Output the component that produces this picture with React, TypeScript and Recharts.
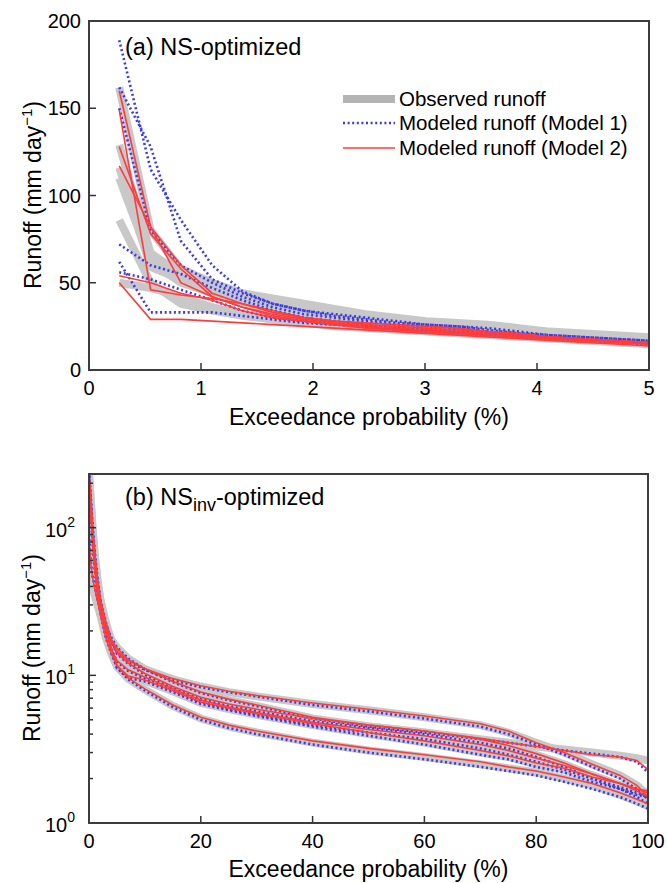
import React from "react";
import { LineChart, Line, XAxis, YAxis } from "recharts";

const FONT = '"Liberation Sans", Arial, Helvetica, sans-serif';
const AXIS = "#333333";
const OBS = "#c8c8c8";
const OBS_KEY = "#b4b4b4";
const M1 = "#3a3ae8";
const M2 = "#ff3c3c";

// ---- panel (a): NS-optimized, first 5 % of the duration curve ----
const probA = [0.27, 0.55, 0.82, 1.1, 1.37, 1.64, 1.92, 2.19, 2.47, 2.74, 3.01, 3.29, 3.56, 3.84, 4.11, 4.38, 4.66, 4.93, 5.21];

const obsA = [
  [162, 80, 58, 50, 44, 41, 38, 35, 32, 30, 28, 27, 26, 24, 22, 21, 20, 19, 18],
  [129, 67, 55, 49, 42, 38, 34, 31, 28, 26, 25, 24, 23, 22, 21, 20, 19, 18, 17],
  [116, 59, 52, 45, 40, 36, 33, 30, 28, 26, 24, 23, 22, 21, 20, 19, 18, 17, 16],
  [110, 62, 50, 44, 38, 34, 31, 28, 26, 24, 23, 22, 21, 20, 19, 18, 17, 16, 15],
  [86, 50, 38, 34, 31, 29, 27, 26, 25, 24, 23, 22, 21, 20, 19, 18, 17, 16, 15],
  [50, 47, 42, 36, 32, 29, 27, 25, 24, 23, 22, 21, 20, 19, 18, 17, 16, 15, 14],
];
const model1A = [
  [189, 115, 86, 60, 45, 38, 34, 31, 29, 27, 26, 25, 24, 22, 20, 19, 18, 17, 16],
  [162, 128, 74, 52, 44, 38, 34, 32, 30, 28, 26, 25, 23, 21, 20, 19, 18, 17, 16],
  [150, 80, 60, 50, 42, 36, 32, 30, 28, 26, 25, 24, 22, 21, 19, 18, 17, 16, 15],
  [72, 60, 55, 47, 40, 34, 30, 28, 26, 24, 23, 22, 21, 20, 19, 18, 17, 16, 15],
  [62, 33, 33, 33, 31, 29, 27, 26, 25, 24, 23, 22, 21, 20, 19, 18, 17, 16, 15],
  [56, 52, 46, 40, 34, 30, 28, 26, 25, 23, 22, 21, 20, 19, 18, 17, 16, 15, 14],
];
const model2A = [
  [160, 82, 60, 44, 38, 34, 30, 28, 27, 26, 25, 24, 22, 21, 19, 18, 17, 16, 15],
  [149, 46, 43, 41, 38, 33, 30, 28, 26, 25, 24, 23, 22, 20, 19, 18, 17, 16, 15],
  [128, 78, 58, 42, 36, 32, 29, 27, 25, 24, 23, 22, 21, 20, 19, 18, 17, 16, 15],
  [117, 82, 50, 42, 36, 31, 28, 26, 25, 23, 22, 21, 20, 19, 18, 17, 16, 15, 14],
  [54, 50, 44, 40, 34, 30, 28, 26, 24, 23, 22, 21, 20, 19, 18, 17, 16, 15, 14],
  [50, 29, 29, 28, 27, 26, 25, 24, 23, 22, 21, 20, 19, 18, 17, 16, 15, 14, 13],
];
const ticksAX = [0, 1, 2, 3, 4, 5];
const ticksAY = [0, 50, 100, 150, 200];

// ---- panel (b): NSinv-optimized, full duration curve (log axis) ----
const probB = [0, 0.3, 0.6, 1, 1.5, 2, 3, 4, 5, 7, 10, 15, 20, 25, 30, 40, 50, 60, 70, 75, 80, 85, 90, 95, 98, 100];

const obsB = [
  [200, 140, 95, 62, 42, 32, 22, 17, 14.5, 12.5, 11, 9.4, 8.4, 7.7, 7.2, 6.4, 5.8, 5.2, 4.6, 4.1, 3.5, 3.0, 2.5, 2.1, 1.8, 1.55],
  [55, 46, 40, 35, 30, 26, 21, 17.5, 15.5, 13, 11, 9, 7.6, 6.8, 6.2, 5.1, 4.5, 4.1, 3.7, 3.5, 3.3, 3.15, 3.0, 2.85, 2.75, 2.65],
  [230, 150, 100, 65, 44, 33, 23, 17, 14, 12, 10.2, 8.3, 7.0, 6.3, 5.8, 5.0, 4.5, 4.1, 3.6, 3.3, 2.9, 2.5, 2.1, 1.8, 1.65, 1.55],
  [210, 130, 85, 55, 38, 29, 20, 15, 12.5, 10.8, 9.6, 8.0, 6.7, 6.0, 5.5, 4.7, 4.2, 3.8, 3.3, 3.0, 2.7, 2.4, 2.1, 1.8, 1.6, 1.45],
  [190, 120, 80, 52, 35, 26, 18, 14, 11.5, 9.5, 8.0, 6.2, 5.1, 4.5, 4.1, 3.5, 3.1, 2.8, 2.5, 2.35, 2.2, 2.0, 1.8, 1.55, 1.4, 1.3],
  [230, 160, 105, 68, 45, 33, 21, 15, 11.5, 9.8, 9.2, 7.8, 6.5, 5.9, 5.4, 4.6, 4.0, 3.5, 3.0, 2.8, 2.5, 2.3, 2.0, 1.8, 1.65, 1.6],
];
const model1B = [
  [230, 150, 100, 64, 43, 32, 22, 17, 14.3, 12.4, 10.9, 9.3, 8.3, 7.7, 7.2, 6.3, 5.7, 5.1, 4.5, 4.0, 3.4, 2.9, 2.4, 2.0, 1.7, 1.45],
  [90, 60, 48, 40, 33, 28, 22, 18, 15.5, 13, 11, 9, 7.6, 6.8, 6.2, 5.1, 4.5, 4.1, 3.7, 3.5, 3.3, 3.1, 2.95, 2.8, 2.6, 2.2],
  [240, 155, 102, 66, 45, 33, 23, 17, 14, 12, 10.1, 8.2, 6.9, 6.2, 5.7, 4.9, 4.4, 4.0, 3.5, 3.2, 2.8, 2.4, 2.0, 1.75, 1.6, 1.5],
  [225, 140, 90, 57, 39, 29, 20, 15, 12.4, 10.7, 9.5, 7.9, 6.6, 5.9, 5.4, 4.6, 4.1, 3.7, 3.2, 2.9, 2.6, 2.3, 2.0, 1.7, 1.5, 1.35],
  [210, 130, 84, 54, 36, 27, 18, 14, 11.4, 9.4, 7.9, 6.1, 5.0, 4.4, 4.0, 3.4, 3.0, 2.7, 2.4, 2.25, 2.1, 1.9, 1.7, 1.5, 1.35, 1.25],
  [240, 165, 108, 70, 46, 33, 20, 14.5, 11.2, 9.6, 9.1, 7.7, 6.4, 5.8, 5.3, 4.5, 3.9, 3.4, 2.9, 2.7, 2.4, 2.2, 1.9, 1.7, 1.55, 1.5],
];
const model2B = [
  [220, 145, 97, 63, 43, 32, 22, 17, 14.6, 12.6, 11.1, 9.5, 8.5, 7.8, 7.3, 6.5, 5.9, 5.3, 4.7, 4.2, 3.5, 3.0, 2.5, 2.1, 1.8, 1.5],
  [80, 58, 47, 39, 32, 27, 21, 17.5, 15.3, 12.8, 11.1, 9.1, 7.7, 6.9, 6.3, 5.2, 4.6, 4.2, 3.75, 3.5, 3.3, 3.1, 2.9, 2.8, 2.65, 2.3],
  [235, 152, 101, 65, 44, 33, 23, 17, 14.2, 12.1, 10.3, 8.4, 7.1, 6.4, 5.9, 5.1, 4.6, 4.2, 3.7, 3.35, 2.95, 2.55, 2.15, 1.85, 1.7, 1.6],
  [220, 135, 88, 56, 38, 29, 20, 15, 12.6, 10.9, 9.7, 8.1, 6.8, 6.1, 5.6, 4.8, 4.3, 3.9, 3.4, 3.1, 2.75, 2.45, 2.15, 1.85, 1.65, 1.5],
  [200, 125, 82, 53, 36, 26, 18, 14, 11.6, 9.6, 8.1, 6.3, 5.2, 4.6, 4.2, 3.6, 3.2, 2.9, 2.6, 2.4, 2.25, 2.05, 1.85, 1.6, 1.45, 1.35],
  [235, 162, 106, 69, 45, 33, 21, 15.2, 11.7, 9.9, 9.3, 7.9, 6.6, 6.0, 5.5, 4.7, 4.1, 3.6, 3.1, 2.85, 2.55, 2.35, 2.05, 1.85, 1.7, 1.65],
];
const ticksBX = [0, 20, 40, 60, 80, 100];
const majorBY = [1, 10, 100];
const minorBY = [2, 3, 4, 5, 6, 7, 8, 9, 20, 30, 40, 50, 60, 70, 80, 90, 200];
const ticksBY = [...majorBY, ...minorBY].sort((p, q) => p - q);

function buildRows(prob: number[], obs: number[][], m1: number[][], m2: number[][]) {
  return prob.map((x, i) => {
    const row: Record<string, number> = { x };
    obs.forEach((s, k) => (row[`o${k}`] = s[i]));
    m1.forEach((s, k) => (row[`a${k}`] = s[i]));
    m2.forEach((s, k) => (row[`b${k}`] = s[i]));
    return row;
  });
}

const rowsA = buildRows(probA, obsA, model1A, model2A);
const rowsB = buildRows(probB, obsB, model1B, model2B);

// inward MATLAB-style ticks; tickSize/tickMargin are 0 so x/y sit on the axis line
const makeTick =
  (side: "bottom" | "left" | "top" | "right", withLabel: boolean, log = false) =>
  (props: any) => {
    const { x, y, payload } = props;
    const v = payload.value as number;
    const major = !log || majorBY.includes(v);
    const len = major ? 7 : 4;
    let line;
    if (side === "bottom") line = <line x1={x} x2={x} y1={y} y2={y - len} stroke={AXIS} strokeWidth={1.5} />;
    else if (side === "top") line = <line x1={x} x2={x} y1={y} y2={y + len} stroke={AXIS} strokeWidth={1.5} />;
    else if (side === "left") line = <line x1={x} x2={x + len} y1={y} y2={y} stroke={AXIS} strokeWidth={1.5} />;
    else line = <line x1={x} x2={x - len} y1={y} y2={y} stroke={AXIS} strokeWidth={1.5} />;
    let label = null;
    if (withLabel && side === "bottom") {
      label = (
        <text x={x} y={y + 25} textAnchor="middle" fontSize={20} fontFamily={FONT} fill="#000">
          {v}
        </text>
      );
    } else if (withLabel && side === "left" && !log) {
      label = (
        <text x={x - 8} y={y + 7} textAnchor="end" fontSize={20} fontFamily={FONT} fill="#000">
          {v}
        </text>
      );
    } else if (withLabel && side === "left" && major) {
      const e = Math.round(Math.log10(v));
      label = (
        <text x={x - 14} y={y + 9} textAnchor="end" fontSize={20} fontFamily={FONT} fill="#000">
          10
          <tspan dy={-10} fontSize={14}>
            {e}
          </tspan>
        </text>
      );
    }
    return (
      <g>
        {line}
        {label}
      </g>
    );
  };

function lines(n: number) {
  const out: React.ReactNode[] = [];
  for (let k = 0; k < n; k++)
    out.push(
      <Line key={`o${k}`} dataKey={`o${k}`} type="linear" stroke={OBS} strokeWidth={8} dot={false} activeDot={false} isAnimationActive={false} />
    );
  for (let k = 0; k < n; k++)
    out.push(
      <Line key={`a${k}`} dataKey={`a${k}`} type="linear" stroke={M1} strokeWidth={2.6} strokeDasharray="2 2.6" dot={false} activeDot={false} isAnimationActive={false} />
    );
  for (let k = 0; k < n; k++)
    out.push(
      <Line key={`b${k}`} dataKey={`b${k}`} type="linear" stroke={M2} strokeWidth={1.6} dot={false} activeDot={false} isAnimationActive={false} />
    );
  return out;
}

const labelStyle: React.CSSProperties = { fontFamily: FONT, fontSize: 23, color: "#000", position: "absolute", whiteSpace: "nowrap" };
const axisLine = { stroke: AXIS, strokeWidth: 2 };

function YLabel({ cx, cy }: { cx: number; cy: number }) {
  return (
    <div style={{ ...labelStyle, left: cx, top: cy, lineHeight: "26px", transform: "translate(-50%, -50%) rotate(-90deg)" }}>
      Runoff (mm day<sup style={{ fontSize: 15, lineHeight: 0 }}>−1</sup>)
    </div>
  );
}

// box around a plot area: four filled strips laid over the chart
function Frame({ left, top, width, height }: { left: number; top: number; width: number; height: number }) {
  const c = "#3c3c3c";
  const t = 2;
  const s = (l: number, tp: number, w: number, h: number): React.CSSProperties => ({ position: "absolute", left: l, top: tp, width: w, height: h, backgroundColor: c, zIndex: 5 });
  return (
    <>
      <div style={s(left - 1, top - 1, width + t, t)} />
      <div style={s(left - 1, top + height - 1, width + t, t)} />
      <div style={s(left - 1, top - 1, t, height + t)} />
      <div style={s(left + width - 1, top - 1, t, height + t)} />
    </>
  );
}

function LegendRow({ top, kind, text }: { top: number; kind: "o" | "a" | "b"; text: string }) {
  const stroke = kind === "o" ? OBS_KEY : kind === "a" ? M1 : M2;
  const w = kind === "o" ? 8 : kind === "a" ? 2.6 : 1.6;
  return (
    <div style={{ position: "absolute", left: 343, top: top - 12, height: 24, display: "flex", alignItems: "center" }}>
      <svg width={52} height={24}>
        <line x1={0} x2={52} y1={12} y2={12} stroke={stroke} strokeWidth={w} strokeDasharray={kind === "a" ? "2 2.6" : undefined} />
      </svg>
      <span style={{ fontFamily: FONT, fontSize: 20.5, marginLeft: 4, lineHeight: "24px", whiteSpace: "nowrap" }}>{text}</span>
    </div>
  );
}

export default function App() {
  return (
    <div style={{ position: "absolute", left: 0, top: 0, width: 667, height: 883, background: "#fff" }}>
      <div style={{ position: "absolute", left: 0, top: 0 }}>
        <LineChart width={667} height={440} data={rowsA} margin={{ top: 21, right: 18, bottom: 0, left: 39 }}>
          <XAxis dataKey="x" type="number" domain={[0, 5]} ticks={ticksAX} allowDataOverflow height={70} tickSize={0} tickMargin={0} tickLine={false} axisLine={axisLine} interval={0} stroke={AXIS} tick={makeTick("bottom", true)} label={{ value: "Exceedance probability (%)", position: "insideBottom", offset: 15, fontSize: 23, fontFamily: FONT, fill: "#000" }} />
          <XAxis xAxisId="t" orientation="top" dataKey="x" type="number" domain={[0, 5]} ticks={ticksAX} allowDataOverflow height={0} tickSize={0} tickMargin={0} tickLine={false} axisLine={axisLine} interval={0} stroke={AXIS} tick={makeTick("top", false)} />
          <YAxis type="number" domain={[0, 200]} ticks={ticksAY} allowDataOverflow width={50} tickSize={0} tickMargin={0} tickLine={false} axisLine={axisLine} interval={0} stroke={AXIS} tick={makeTick("left", true)} />
          <YAxis yAxisId="r" orientation="right" type="number" domain={[0, 200]} ticks={ticksAY} allowDataOverflow width={0} tickSize={0} tickMargin={0} tickLine={false} axisLine={axisLine} interval={0} stroke={AXIS} tick={makeTick("right", false)} />
          {lines(6)}
        </LineChart>
      </div>
      <div style={{ position: "absolute", left: 0, top: 448 }}>
        <LineChart width={667} height={435} data={rowsB} margin={{ top: 26, right: 19, bottom: 0, left: 39 }}>
          <XAxis dataKey="x" type="number" domain={[0, 100]} ticks={ticksBX} allowDataOverflow height={60} tickSize={0} tickMargin={0} tickLine={false} axisLine={axisLine} interval={0} stroke={AXIS} tick={makeTick("bottom", true)} label={{ value: "Exceedance probability (%)", position: "insideBottom", offset: 6, fontSize: 23, fontFamily: FONT, fill: "#000" }} />
          <XAxis xAxisId="t" orientation="top" dataKey="x" type="number" domain={[0, 100]} ticks={ticksBX} allowDataOverflow height={0} tickSize={0} tickMargin={0} tickLine={false} axisLine={axisLine} interval={0} stroke={AXIS} tick={makeTick("top", false)} />
          <YAxis type="number" scale="log" domain={[1, 231]} ticks={ticksBY} allowDataOverflow width={50} tickSize={0} tickMargin={0} tickLine={false} axisLine={axisLine} interval={0} stroke={AXIS} tick={makeTick("left", true, true)} />
          <YAxis yAxisId="r" orientation="right" type="number" scale="log" domain={[1, 231]} ticks={ticksBY} allowDataOverflow width={0} tickSize={0} tickMargin={0} tickLine={false} axisLine={axisLine} interval={0} stroke={AXIS} tick={makeTick("right", false, true)} />
          {lines(6)}
        </LineChart>
      </div>

      <Frame left={89} top={21} width={560} height={349} />
      <Frame left={89} top={474} width={559} height={349} />

      <div style={{ ...labelStyle, fontSize: 23.5, left: 125, top: 34, lineHeight: "26px" }}>(a) NS-optimized</div>
      <div style={{ ...labelStyle, fontSize: 23.5, left: 125, top: 484, lineHeight: "26px" }}>
        (b) NS<sub style={{ fontSize: 18, lineHeight: 0 }}>inv</sub>-optimized
      </div>
      <YLabel cx={33} cy={195} />
      <YLabel cx={32} cy={648} />

      <LegendRow top={99} kind="o" text="Observed runoff" />
      <LegendRow top={123} kind="a" text="Modeled runoff (Model 1)" />
      <LegendRow top={148} kind="b" text="Modeled runoff (Model 2)" />
    </div>
  );
}
